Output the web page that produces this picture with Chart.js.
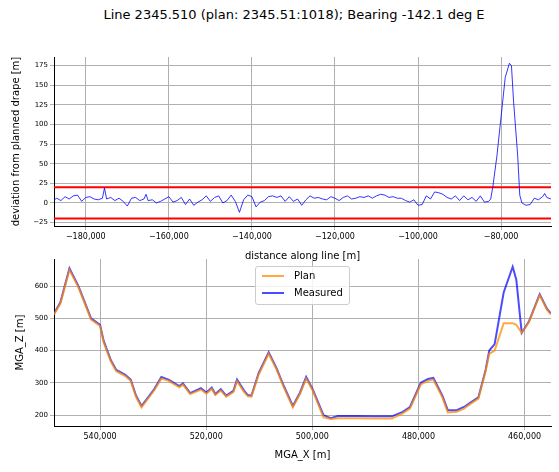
<!DOCTYPE html>
<html>
<head>
<meta charset="utf-8">
<script src="https://cdn.jsdelivr.net/npm/chart.js@4"></script>
<style>
  body { margin: 0; background: #fff; font-family: "DejaVu Sans", sans-serif; }
  #wrap { position: relative; width: 559px; height: 472px; }
  #title { position: absolute; top: 7px; left: 0; width: 588px; text-align: center; font-size: 13px; color: #000; }
  canvas { position: absolute; left: 0; }
  #legend { position: absolute; left: 255px; top: 266px; width: 93px; height: 37px; border: 1px solid #ccc; border-radius: 3px; background: rgba(255,255,255,0.85); font-size: 10px; }
  #legend div { position: relative; height: 17px; line-height: 17px; padding-left: 38px; }
  #legend span { position: absolute; left: 6px; top: 8px; width: 22px; height: 2px; }
</style>
</head>
<body>
<div id="wrap">
  <div id="title">Line 2345.510 (plan: 2345.51:1018); Bearing -142.1 deg E</div>
  <canvas id="top" width="559" height="266" style="top:0"></canvas>
  <canvas id="bottom" width="559" height="225" style="top:240px"></canvas>
  <div id="legend">
    <div><span style="background:rgba(255,140,0,0.75)"></span>Plan</div>
    <div><span style="background:rgba(0,0,255,0.7)"></span>Measured</div>
  </div>
</div>
<script>
// top panel: deviation along line
const distance = [-187600,-187000,-186000,-185000,-184000,-183000,-182000,-181000,-180000,-179000,-178000,-177000,-176000,-175500,-175000,-174000,-173000,-172000,-171000,-170000,-169000,-168000,-167000,-166000,-165500,-165000,-164000,-163000,-162000,-161000,-160000,-159000,-158000,-157000,-156000,-155000,-154000,-153000,-152000,-151000,-150000,-149000,-148000,-147000,-146000,-145000,-144000,-143000,-142000,-141000,-140000,-139000,-138000,-137000,-136000,-135000,-134000,-133000,-132000,-131000,-130000,-129000,-128000,-127000,-126000,-125000,-124000,-123000,-122000,-121000,-120000,-119000,-118000,-117000,-116000,-115000,-114000,-113000,-112000,-111000,-110000,-109000,-108000,-107000,-106000,-105000,-104000,-103000,-102000,-101000,-100000,-99000,-98000,-97000,-96000,-95000,-94000,-93000,-92000,-91000,-90000,-89000,-88000,-87000,-86000,-85000,-84000,-83000,-82500,-82000,-81000,-80000,-79000,-78000,-77500,-77000,-76000,-75500,-75000,-74000,-73000,-72000,-71000,-70000,-69500,-69000,-68000];
const deviation = [4,6,3,8,5,9,10,2,7,8,5,4,6,19,5,7,3,6,2,-4,6,7,3,5,11,3,4,0,2,5,8,1,3,7,-2,5,-3,1,4,9,2,7,9,0,3,10,2,-12,4,10,8,-5,1,3,8,9,7,9,2,8,2,5,-3,4,9,6,7,5,4,8,6,3,7,9,5,6,8,7,9,6,9,11,10,7,8,6,6,3,1,4,-3,-2,9,5,14,13,11,7,5,9,3,9,4,7,2,9,1,2,5,20,60,110,160,178,175,130,60,10,0,-3,-2,6,4,8,12,7,5];
const tolerance = [20, -20];
const topTicksX = [-180000,-160000,-140000,-120000,-100000,-80000];

// bottom panel: elevation profile
const mgaX = [548680,547470,545770,544070,541700,540000,539320,537960,536940,535250,534230,533210,532190,529810,528450,527100,525060,524380,523020,520990,519970,518950,518270,517250,516230,514870,514190,512830,512150,511480,510120,508220,506730,505370,503670,502310,501160,499930,497900,496540,495180,491780,488390,484990,482960,481600,479560,478200,477190,475490,474470,472770,471410,470060,468700,467340,466650,465640,463940,462240,461560,460540,459190,457150,455790,455020];
const measured = [515,550,655,600,500,480,430,370,340,325,310,260,228,280,318,310,290,298,268,283,270,285,265,280,260,275,310,275,262,260,330,395,345,290,228,270,318,280,200,190,197,197,196,196,210,225,300,312,315,260,215,215,225,240,255,340,400,420,580,660,620,455,490,575,530,515];
const plan = [512,546,650,596,496,476,425,366,336,321,306,256,224,276,313,306,286,294,265,279,266,281,262,276,257,271,305,271,258,257,325,390,341,286,224,266,313,276,193,188,190,190,189,189,205,220,295,306,310,255,208,210,220,236,251,336,390,400,485,485,480,455,488,572,527,512];
const bottomTicksX = [540000,520000,500000,480000,460000];
const bottomTicksY = [200,300,400,500,600];

const fmt = v => (v < 0 ? '\u2212' : '') + Math.abs(v).toLocaleString('en-US');
const grid = { color: '#b0b0b0', lineWidth: 1, tickLength: 4 };
const border = { display: true, color: '#000', width: 1 };
const tickFont = { family: 'DejaVu Sans', size: 8 };
const titleFont = { family: 'DejaVu Sans', size: 10 };
const keep = list => scale => { scale.ticks = list.map(v => ({ value: v })); };

new Chart(document.getElementById('top'), {
  type: 'line',
  data: {
    datasets: [
      { data: distance.map((d, i) => ({ x: d, y: deviation[i] })), borderColor: '#0000ff', borderWidth: 0.8, pointRadius: 0, tension: 0 },
      { data: [{ x: -187660, y: tolerance[0] }, { x: -67980, y: tolerance[0] }], borderColor: '#ff0000', borderWidth: 2, pointRadius: 0 },
      { data: [{ x: -187660, y: tolerance[1] }, { x: -67980, y: tolerance[1] }], borderColor: '#ff0000', borderWidth: 2, pointRadius: 0 }
    ]
  },
  options: {
    responsive: false, animation: false,
    layout: { padding: { top: 57, right: 8, left: 8, bottom: 0 } },
    plugins: { legend: { display: false }, tooltip: { enabled: false } },
    scales: {
      x: {
        type: 'linear', min: -187660, max: -67980,
        grid, border,
        afterBuildTicks: keep(topTicksX),
        afterFit: s => { s.height = 40; },
        ticks: { font: tickFont, color: '#000', maxRotation: 0, padding: 2, callback: fmt },
        title: { display: true, text: 'distance along line [m]', font: titleFont, color: '#000', padding: { top: 3 } }
      },
      y: {
        min: -29.4, max: 186,
        grid, border,
        afterBuildTicks: keep([-25,0,25,50,75,100,125,150,175]),
        afterFit: s => { s.width = 46; },
        ticks: { font: { family: 'DejaVu Sans', size: 7 }, color: '#000', padding: 2, callback: fmt },
        title: { display: true, text: 'deviation from planned drape [m]', font: titleFont, color: '#000', padding: 2 }
      }
    }
  }
});

new Chart(document.getElementById('bottom'), {
  type: 'line',
  data: {
    datasets: [
      { label: 'Plan', data: mgaX.map((x, i) => ({ x, y: plan[i] })), borderColor: 'rgba(255,140,0,0.75)', borderWidth: 2, pointRadius: 0 },
      { label: 'Measured', data: mgaX.map((x, i) => ({ x, y: measured[i] })), borderColor: 'rgba(0,0,255,0.7)', borderWidth: 2, pointRadius: 0 }
    ]
  },
  options: {
    responsive: false, animation: false,
    layout: { padding: { top: 19, right: 8, left: 12, bottom: 0 } },
    plugins: { legend: { display: false }, tooltip: { enabled: false } },
    scales: {
      x: {
        type: 'linear', reverse: true, min: 455020, max: 548680,
        grid, border,
        afterBuildTicks: keep(bottomTicksX),
        afterFit: s => { s.height = 39; },
        ticks: { font: tickFont, color: '#000', maxRotation: 0, padding: 2, callback: fmt },
        title: { display: true, text: 'MGA_X [m]', font: titleFont, color: '#000', padding: { top: 3 } }
      },
      y: {
        min: 166, max: 684,
        grid, border,
        afterBuildTicks: keep(bottomTicksY),
        afterFit: s => { s.width = 42; },
        ticks: { font: { family: 'DejaVu Sans', size: 7 }, color: '#000', padding: 2, callback: fmt },
        title: { display: true, text: 'MGA_Z [m]', font: titleFont, color: '#000', padding: 2 }
      }
    }
  }
});
</script>
</body>
</html>
